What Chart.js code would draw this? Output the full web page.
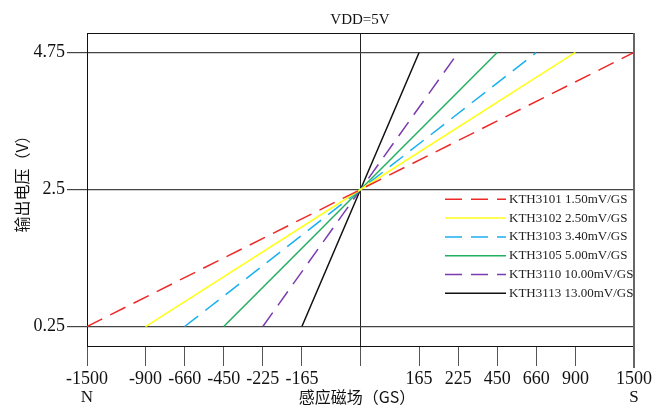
<!DOCTYPE html>
<html>
<head>
<meta charset="utf-8">
<script src="https://cdn.jsdelivr.net/npm/chart.js@4.4.0/dist/chart.umd.min.js"></script>
<style>
  html, body { margin: 0; padding: 0; background: #fff; }
  #wrap { width: 662px; height: 406px; }
</style>
</head>
<body>
<div id="wrap"><canvas id="grafico" width="662" height="406"></canvas></div>
<script>
// tick labels of the field axis (GS) and where each one sits on the axis
// (the axis in the picture is not to scale, ticks are spaced by hand)
const fieldTicks = [-1500, -900, -660, -450, -225, -165, 0, 165, 225, 450, 660, 900, 1500];
const tickSlots = [-14, -11, -9, -7, -5, -3, 0, 3, 5, 7, 9, 11, 14];
const voltTicks = [0.25, 2.5, 4.75];

const sensorNames = ['KTH3101', 'KTH3102', 'KTH3103', 'KTH3105', 'KTH3110', 'KTH3113'];
const sensitivities = ['1.50', '2.50', '3.40', '5.00', '10.00', '13.00'];
const fieldRange = [1500, 900, 660, 450, 225, 165];
const outputVolts = [0.25, 2.5, 4.75];

const lineColors = ['#f02828', '#ffff1a', '#18b0f0', '#22b060', '#7a3ab0', '#111111'];
const lineDashed = [true, false, true, false, true, false];

const numFont = '"Liberation Serif", serif';
const cjkFont = '"Noto Sans CJK SC", sans-serif';

function slotOf(g) {
    return tickSlots[fieldTicks.indexOf(g)];
}

document.addEventListener('DOMContentLoaded', function() {
    const ctx = document.getElementById('grafico').getContext('2d');

    const datasets = sensorNames.map(function(nome, i) {
        const r = fieldRange[i];
        const campos = [-r, 0, r];
        return {
            label: nome + ' ' + sensitivities[i] + 'mV/GS',
            data: campos.map(function(g, k) { return { x: slotOf(g), y: outputVolts[k] }; }),
            borderColor: lineColors[i],
            borderWidth: 1.5,
            borderDash: lineDashed[i] ? [17, 9] : [],
            pointRadius: 0,
            tension: 0,
            fill: false
        };
    });

    const extras = {
        id: 'extras',
        afterDraw: function(chart) {
            const c = chart.ctx;
            const a = chart.chartArea;
            c.save();

            // top and right side of the frame
            c.strokeStyle = '#111';
            c.lineWidth = 1;
            c.beginPath();
            c.moveTo(a.left, a.top + 0.5);
            c.lineTo(a.right, a.top + 0.5);
            c.stroke();
            c.strokeStyle = '#666';
            c.lineWidth = 2;
            c.beginPath();
            c.moveTo(a.right, a.top);
            c.lineTo(a.right, a.bottom + 22);
            c.stroke();

            // legend
            const y0 = 199.3, passo = 18.8;
            chart.data.datasets.forEach(function(ds, i) {
                const y = y0 + i * passo;
                c.strokeStyle = ds.borderColor;
                c.lineWidth = 1.5;
                c.setLineDash(ds.borderDash);
                c.beginPath();
                c.moveTo(445, y);
                c.lineTo(506, y);
                c.stroke();
                c.setLineDash([]);
                c.fillStyle = '#222';
                c.font = '13px ' + numFont;
                c.textAlign = 'left';
                c.textBaseline = 'middle';
                c.fillText(ds.label, 509, y);
            });

            // titles
            c.fillStyle = '#111';
            c.textAlign = 'center';
            c.textBaseline = 'middle';
            c.font = '15px ' + numFont;
            c.fillText('VDD=5V', 360, 20);

            c.font = '16px ' + cjkFont;
            c.fillText('感应磁场（GS）', 357, 397);

            c.font = '17px ' + numFont;
            c.fillText('N', chart.scales.x.getPixelForValue(tickSlots[0]), 398);
            c.fillText('S', chart.scales.x.getPixelForValue(tickSlots[tickSlots.length - 1]), 398);

            c.save();
            c.translate(22, 180);
            c.rotate(-Math.PI / 2);
            c.font = '16px ' + cjkFont;
            c.fillText('输出电压（V）', 0, 0);
            c.restore();

            c.restore();
        }
    };

    new Chart(ctx, {
        type: 'line',
        data: { datasets: datasets },
        options: {
            responsive: false,
            animation: false,
            layout: { padding: { top: 33, right: 28, bottom: 0, left: 0 } },
            plugins: {
                legend: { display: false },
                tooltip: { enabled: false },
                title: { display: false }
            },
            scales: {
                x: {
                    type: 'linear',
                    min: tickSlots[0],
                    max: tickSlots[tickSlots.length - 1],
                    afterBuildTicks: function(s) {
                        s.ticks = tickSlots.map(function(v) { return { value: v }; });
                    },
                    afterFit: function(s) { s.height = 60; },
                    ticks: {
                        autoSkip: false,
                        maxRotation: 0,
                        padding: 2,
                        color: '#111',
                        font: { family: numFont, size: 18 },
                        callback: function(v) {
                            return v === 0 ? '' : String(fieldTicks[tickSlots.indexOf(v)]);
                        }
                    },
                    grid: {
                        color: function(c) {
                            return c.tick && c.tick.value === 0 ? '#222' : 'rgba(0,0,0,0)';
                        },
                        tickColor: '#555',
                        tickLength: 20,
                        lineWidth: 1
                    },
                    border: { color: '#111', width: 1 }
                },
                y: {
                    type: 'linear',
                    min: -0.07,
                    max: 5.07,
                    afterBuildTicks: function(s) {
                        s.ticks = voltTicks.map(function(v) { return { value: v }; });
                    },
                    afterFit: function(s) { s.width = 87; },
                    ticks: {
                        padding: 2,
                        color: '#111',
                        font: { family: numFont, size: 18 },
                        callback: function(v) { return String(v); }
                    },
                    grid: {
                        color: '#444',
                        tickColor: '#444',
                        tickLength: 20,
                        lineWidth: 1.2
                    },
                    border: { color: '#111', width: 1 }
                }
            }
        },
        plugins: [extras]
    });
});
</script>
</body>
</html>
